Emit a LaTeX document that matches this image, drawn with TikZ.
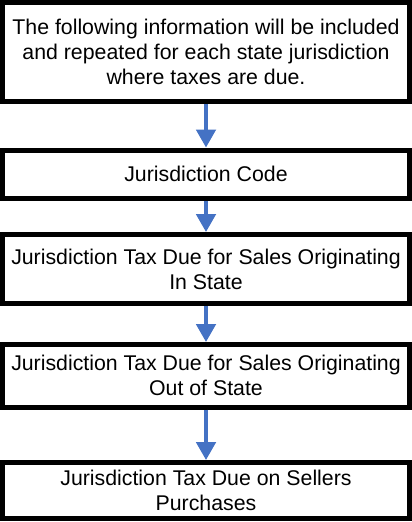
\documentclass[tikz,border=0pt]{standalone}
\usepackage{fontspec}
\setmainfont{Liberation Sans}
\usetikzlibrary{arrows.meta}
\definecolor{arrowblue}{RGB}{68,114,196}
\tikzset{
  infobox/.style={draw=black, line width=5pt, fill=white, rectangle,
    minimum width=407pt, inner sep=0pt, align=center,
    font=\fontsize{21.3pt}{25pt}\selectfont},
  flowarrow/.style={draw=arrowblue, line width=3.5pt,
    -{Triangle[length=18pt,width=19.5pt]}}
}
\begin{document}
\begin{tikzpicture}[x=1pt,y=1pt]
\useasboundingbox (0,0) rectangle (412,-522);
\node[infobox, minimum height=99pt] (b1) at (206,-52)
  {The following information will be included\\and repeated for each state jurisdiction\\where taxes are due.};
\node[infobox, minimum height=48.5pt] (b2) at (206,-174.25)
  {Jurisdiction Code};
\node[infobox, minimum height=69pt] (b3) at (206,-269)
  {Jurisdiction Tax Due for Sales Originating\\In State};
\node[infobox, minimum height=62.5pt] (b4) at (206,-375.75)
  {Jurisdiction Tax Due for Sales Originating\\Out of State};
\node[infobox, minimum height=56pt] (b5) at (206,-490.5)
  {Jurisdiction Tax Due on Sellers\\Purchases};
\draw[flowarrow] (b1.south) -- (b2.north);
\draw[flowarrow] (b2.south) -- (b3.north);
\draw[flowarrow] (b3.south) -- (b4.north);
\draw[flowarrow] (b4.south) -- (b5.north);
\end{tikzpicture}
\end{document}
